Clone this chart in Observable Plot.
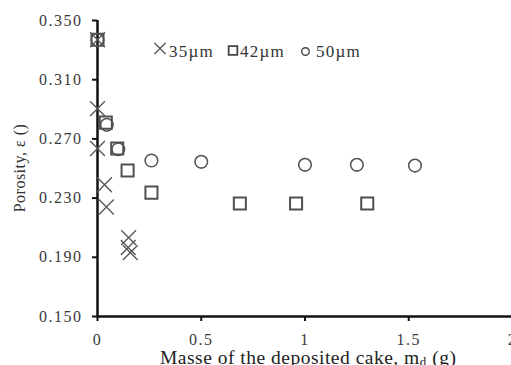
<!DOCTYPE html>
<html>
<head>
<meta charset="utf-8">
<script src="https://cdn.jsdelivr.net/npm/d3@7"></script>
<script src="https://cdn.jsdelivr.net/npm/@observablehq/plot@0.6"></script>
<style>
  html, body { margin: 0; padding: 0; background: #fff; overflow: hidden; }
  #chart { position: relative; width: 511px; height: 365px; overflow: hidden; }
  #chart svg { max-width: none !important; }
</style>
</head>
<body>
<div id="chart"></div>
<script>
// 35 µm particles (×)
const x35 = [0, 0, 0, 0.034, 0.043, 0.15, 0.148, 0.158];
const y35 = [0.337, 0.2905, 0.2635, 0.239, 0.224, 0.2033, 0.1966, 0.1932];
// 42 µm particles (□)
const x42 = [0, 0.04, 0.095, 0.145, 0.26, 0.686, 0.957, 1.30];
const y42 = [0.337, 0.281, 0.2635, 0.2486, 0.2337, 0.2263, 0.2263, 0.2263];
// 50 µm particles (○)
const x50 = [0, 0.045, 0.1, 0.26, 0.5, 1.0, 1.25, 1.53];
const y50 = [0.337, 0.2795, 0.263, 0.2554, 0.2545, 0.2525, 0.2525, 0.252];

const series = ["35\u00b5m", "42\u00b5m", "50\u00b5m"];
const xTicks = [0, 0.5, 1, 1.5, 2];
const yTicks = [0.15, 0.19, 0.23, 0.27, 0.31, 0.35];
const xTitle = "Masse of the deposited cake, m";
const xTitleSub = "d";
const xTitleEnd = " (g)";
const yTitle = "Porosity, \u03b5 ()";

const toRows = (xs, ys) => xs.map((x, i) => ({x, y: ys[i]}));
const d35 = toRows(x35, y35), d42 = toRows(x42, y42), d50 = toRows(x50, y50);

const serif = "'Liberation Serif', 'Times New Roman', serif";

const svg = Plot.plot({
  width: 530, height: 365,
  marginLeft: 97, marginRight: 18, marginTop: 20, marginBottom: 49,
  style: {fontFamily: serif, fontSize: "16px", color: "#333", background: "#fff", overflow: "visible", maxWidth: "none"},
  x: {domain: [0, 2]},
  y: {domain: [0.15, 0.35]},
  marks: [
    Plot.axisY({ticks: yTicks, tickSize: 5, tickPadding: 10, tickFormat: d3.format(".3f"), label: null, stroke: "#111", strokeWidth: 2, fill: "#3a3a3a"}),
    Plot.axisX({ticks: xTicks, tickSize: 5, tickPadding: 12, tickFormat: d => String(d), label: null, stroke: "#111", strokeWidth: 2, fill: "#3a3a3a"}),
    Plot.ruleX([0], {stroke: "#111", strokeWidth: 2.5}),
    Plot.ruleY([0.15], {stroke: "#111", strokeWidth: 2.5}),
    Plot.dot(d50, {x: "x", y: "y", symbol: "circle", r: 6.3, stroke: "#555", strokeWidth: 1.6, fill: "none"}),
    Plot.dot(d42, {x: "x", y: "y", symbol: "square", r: 6.8, stroke: "#505050", strokeWidth: 2, fill: "none"}),
    Plot.dot(d35, {x: "x", y: "y", symbol: "times", r: 6.8, stroke: "#5a5a5a", strokeWidth: 1.4, fill: "none"})
  ]
});
svg.style.maxWidth = "none";
svg.style.width = "530px";
svg.style.height = "365px";

const s = d3.select(svg);
s.selectAll("g[aria-label='y-axis tick label'] text, g[aria-label='x-axis tick label'] text")
  .style("letter-spacing", "1.5px");

// axis titles
s.append("text")
  .attr("transform", "translate(25,168) rotate(-90)")
  .attr("text-anchor", "middle")
  .attr("font-family", serif).attr("font-size", 16)
  .attr("letter-spacing", "0.5px")
  .attr("fill", "#333")
  .text(yTitle);

const xt = s.append("text")
  .attr("x", 160).attr("y", 364)
  .attr("text-anchor", "start")
  .attr("font-family", serif).attr("font-size", 19.5)
  .attr("letter-spacing", "0.5px")
  .attr("fill", "#222");
xt.append("tspan").text(xTitle);
xt.append("tspan").attr("font-size", 13).attr("dy", 2).text(xTitleSub);
xt.append("tspan").attr("dy", -2).text(xTitleEnd);

// legend (inside plot area, top)
const legendSym = ["times", "square", "circle"];
const symMap = {times: d3.symbolTimes, square: d3.symbolSquare, circle: d3.symbolCircle};
const legendSize = [ {cx: 160, cy: 48.5, area: 85, sw: 1.3}, {cx: 233, cy: 50.5, area: 75, sw: 1.8}, {cx: 305.5, cy: 51.5, area: 45, sw: 1.4} ];
const legendTextX = [169, 240, 316];
const lg = s.append("g");
series.forEach((name, i) => {
  const o = legendSize[i];
  lg.append("path")
    .attr("d", d3.symbol(symMap[legendSym[i]], o.area)())
    .attr("transform", `translate(${o.cx},${o.cy})`)
    .attr("fill", "none").attr("stroke", "#444").attr("stroke-width", o.sw);
  lg.append("text")
    .attr("x", legendTextX[i]).attr("y", 57)
    .attr("text-anchor", "start")
    .attr("font-family", serif).attr("font-size", 17)
    .attr("letter-spacing", "1.2px")
    .attr("fill", "#333")
    .text(name);
});

document.getElementById("chart").appendChild(svg);
</script>
</body>
</html>
